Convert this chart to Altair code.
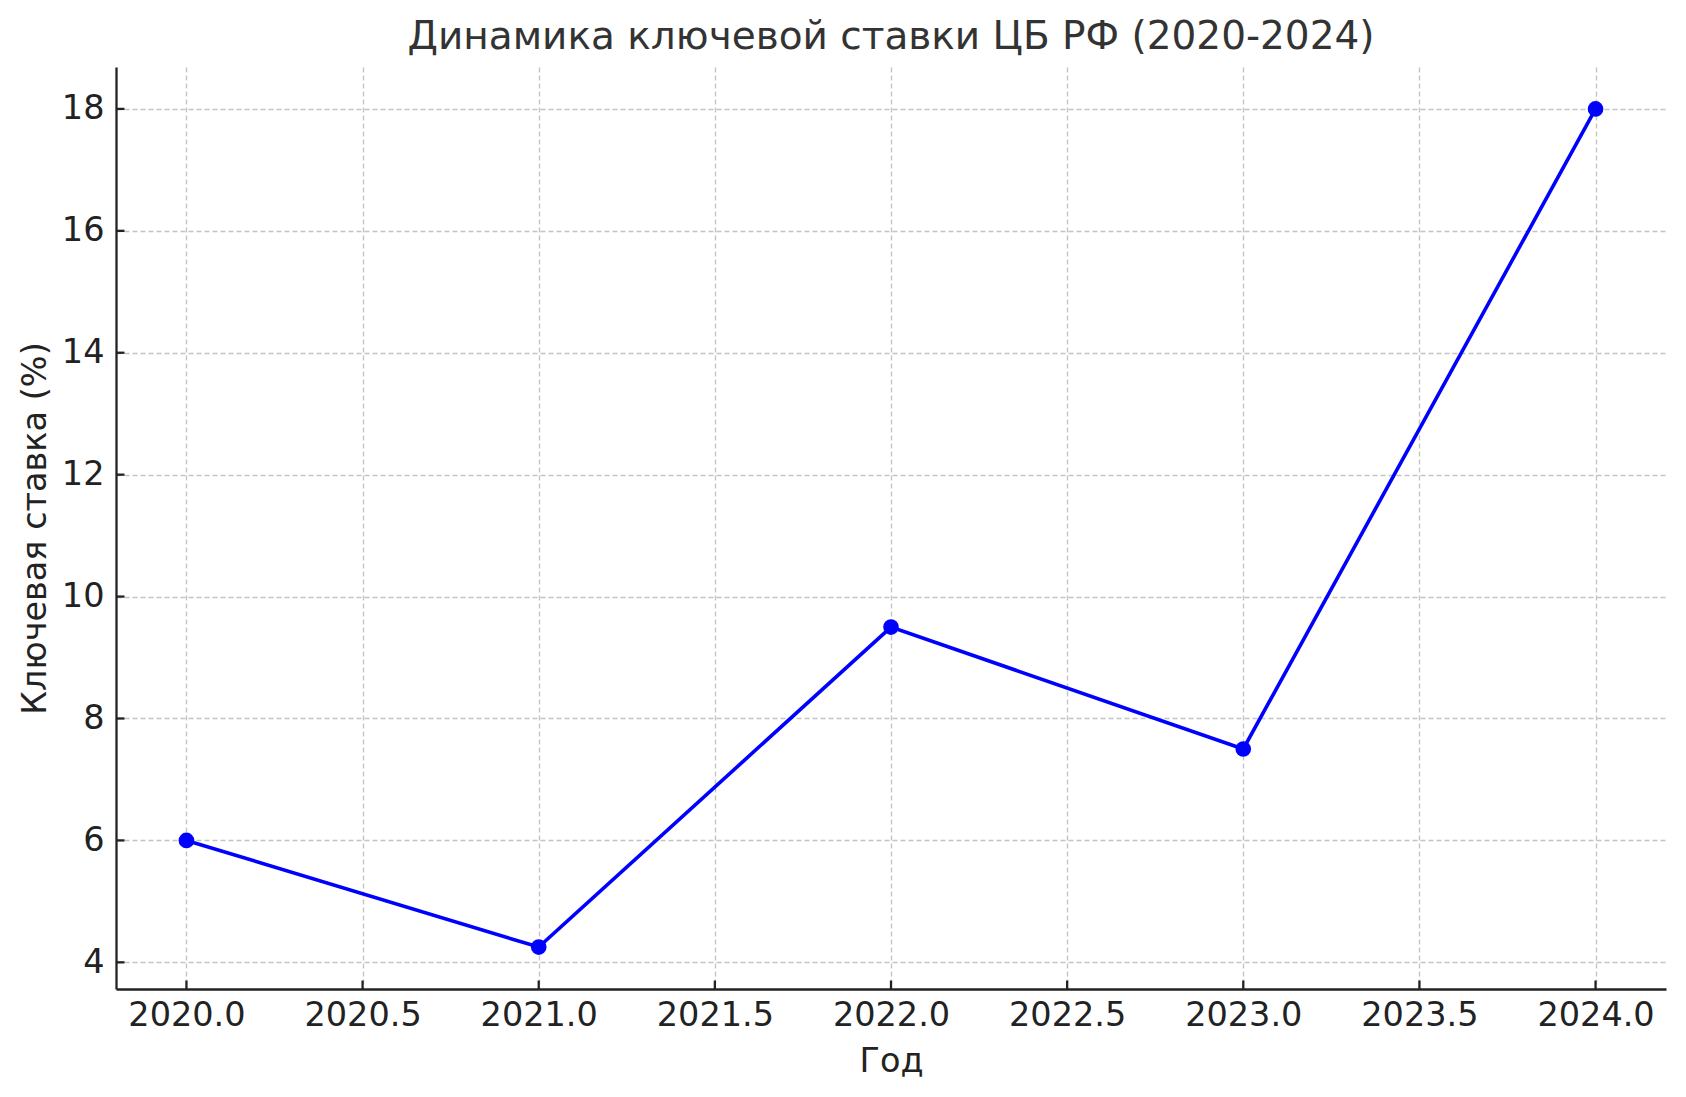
import altair as alt
import pandas as pd

# Data
years = [2020, 2021, 2022, 2023, 2024]
rates = [6.0, 4.25, 9.5, 7.5, 18.0]

x_ticks = [2020.0, 2020.5, 2021.0, 2021.5, 2022.0, 2022.5, 2023.0, 2023.5, 2024.0]
y_ticks = [4, 6, 8, 10, 12, 14, 16, 18]

title_text = "Динамика ключевой ставки ЦБ РФ (2020-2024)"
x_title = "Год"
y_title = "Ключевая ставка (%)"

df = pd.DataFrame({"year": years, "rate": rates})
xt = pd.DataFrame({"year": x_ticks})
yt = pd.DataFrame({"rate": y_ticks})

W, H = 1550, 922
FONT = "DejaVu Sans"
TXT = "#222222"
TICK_LEN = 8.5
FS = 33.5

x_scale = alt.Scale(domain=[2019.8, 2024.2], nice=False, zero=False)
y_scale = alt.Scale(domain=[3.5625, 18.6875], nice=False, zero=False)

x_axis = alt.Axis(
    values=x_ticks, format=".1f", ticks=False, labelPadding=10,
    labelFontSize=FS, labelFont=FONT, labelColor=TXT,
    title=x_title, titleFontSize=FS, titleFont=FONT, titleColor=TXT,
    titleFontWeight="normal", titleX=W / 2, titleY=82,
    titleBaseline="alphabetic", titleAlign="center",
    grid=True, gridDash=[5, 3], gridColor="#c4c4c4", gridWidth=1.4,
    domainColor=TXT, domainWidth=2.3, labelFlush=False, labelOverlap=False,
)
y_axis = alt.Axis(
    values=y_ticks, format="d", ticks=False, labelPadding=12,
    labelFontSize=FS, labelFont=FONT, labelColor=TXT,
    title=y_title, titleFontSize=FS, titleFont=FONT, titleColor=TXT,
    titleFontWeight="normal", titleAngle=270, titleX=-71, titleY=H / 2,
    titleBaseline="alphabetic", titleAlign="center",
    grid=True, gridDash=[5, 3], gridColor="#c4c4c4", gridWidth=1.4,
    domainColor=TXT, domainWidth=2.3, labelFlush=False, labelOverlap=False,
)

X = alt.X("year:Q", scale=x_scale, axis=x_axis)
Y = alt.Y("rate:Q", scale=y_scale, axis=y_axis)

base = alt.Chart(df)

line = base.mark_line(color="#0000ff", strokeWidth=3.6).encode(x=X, y=Y)
points = base.mark_circle(color="#0000ff", opacity=1, size=245).encode(x=X, y=Y)

# inward-pointing tick marks (matplotlib style)
xticks_layer = alt.Chart(xt).mark_rule(color=TXT, strokeWidth=2.3).encode(
    x=X,
    y=alt.value(H),
    y2=alt.value(H - TICK_LEN),
)
yticks_layer = alt.Chart(yt).mark_rule(color=TXT, strokeWidth=2.3).encode(
    y=Y,
    x=alt.value(0),
    x2=alt.value(TICK_LEN),
)

chart = alt.layer(line, xticks_layer, yticks_layer, points).properties(
    width=W,
    height=H,
    background="white",
    title=alt.TitleParams(
        text=title_text, font=FONT, fontSize=39, color="#333333",
        fontWeight="normal", anchor="middle", baseline="alphabetic",
        offset=14, dy=35,
    ),
    autosize=alt.AutoSizeParams(type="none"),
    padding={"left": 108, "top": 59, "right": 12, "bottom": 100},
).configure_view(stroke=None)

chart.save("out.html", embed_options={"renderer": "svg", "actions": False})
